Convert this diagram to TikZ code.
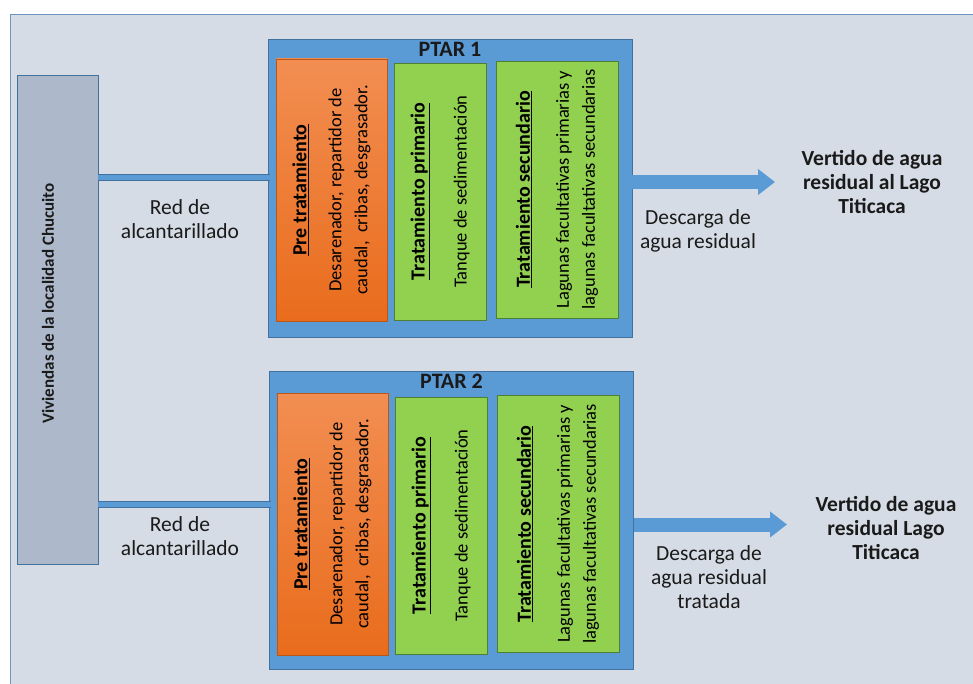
\documentclass[tikz,border=0pt]{standalone}
\usepackage{fontspec}
\setmainfont{Carlito}
\usepackage{tikz}
\usepackage{xcolor}
\usetikzlibrary{arrows.meta,positioning}

\definecolor{fondo}{HTML}{D6DCE5}
\definecolor{marco}{HTML}{6F94C2}
\definecolor{gris}{HTML}{ADB9CA}
\definecolor{azul}{HTML}{5B9BD5}
\definecolor{azulosc}{HTML}{41719C}
\definecolor{verde}{HTML}{92D050}
\definecolor{verdeosc}{HTML}{507E32}
\definecolor{naranja1}{HTML}{F28E52}
\definecolor{naranja2}{HTML}{E96C1C}
\definecolor{texto}{HTML}{1A1A1A}

\newcommand{\caja}[4]{\rotatebox{90}{\parbox{#1}{\centering
  \fontsize{18.5}{26}\selectfont{\fontsize{20}{26}\selectfont\underline{\textbf{#2}}}\\[#3]#4}}}

\tikzset{
  ptar/.style={draw=azulosc, fill=azul, line width=0.8pt, minimum width=364pt, minimum height=298pt},
  pre/.style={draw=naranja2!80!black, top color=naranja1, bottom color=naranja2, line width=0.4pt,
    minimum width=111pt, minimum height=262pt, inner sep=0pt},
  etapa/.style={draw=verdeosc, fill=verde, line width=0.8pt, minimum height=257pt, inner sep=0pt},
  tubo/.style={draw=azul, line width=5pt, preaction={draw=azulosc, line width=7pt}},
  flecha/.style={draw=azul, line width=14pt, -{Triangle[length=17pt,width=25pt]}},
  rotulo/.style={align=center, font=\fontsize{21.5}{24}\selectfont, text=texto},
  destino/.style={align=center, font=\fontsize{21.5}{24}\selectfont\bfseries, text=texto},
  titulo/.style={font=\fontsize{22}{22}\selectfont\bfseries, text=texto, inner sep=2pt}
}

\begin{document}
\begin{tikzpicture}[x=1pt,y=-1pt]
\useasboundingbox (0,0) rectangle (973,684);
\fill[white] (0,0) rectangle (973,684);
\draw[marco, fill=fondo, line width=0.8pt] (10,14) rectangle (990,700);

% viviendas
\node (viv) [draw=azulosc, fill=gris, line width=0.8pt, minimum width=81pt, minimum height=489pt,
  inner sep=0pt, text=texto] at (57.5,319.5)
  {\rotatebox{90}{\raisebox{19pt}{\hspace*{32pt}\fontsize{17}{20}\selectfont\bfseries Viviendas de la localidad Chucuito}}};

% PTAR 1
\node (ptar1) [ptar] at (450,188) {};
\node (tit1) [below=1pt of ptar1.north, titulo] {PTAR 1};
\node (pre1) [pre] at (331.5,190) {\caja{250pt}{Pre tratamiento}{9pt}{Desarenador, repartidor de\\caudal,\ \ cribas, desgrasador.}};
\node (pri1) [etapa, minimum width=92pt] at (440,191.5) {\caja{250pt}{Tratamiento primario}{16pt}{Tanque de sedimentación}};
\node (sec1) [etapa, minimum width=122pt] at (557,189.5) {\caja{250pt}{Tratamiento secundario}{13pt}{Lagunas facultativas primarias y\\lagunas facultativas secundarias}};

% PTAR 2
\node (ptar2) [ptar] at (451.5,520) {};
\node (tit2) [below=1pt of ptar2.north, titulo] {PTAR 2};
\node (pre2) [pre] at (332.5,524) {\caja{250pt}{Pre tratamiento}{9pt}{Desarenador, repartidor de\\caudal,\ \ cribas, desgrasador.}};
\node (pri2) [etapa, minimum width=92pt] at (441,525.5) {\caja{250pt}{Tratamiento primario}{16pt}{Tanque de sedimentación}};
\node (sec2) [etapa, minimum width=122pt] at (558,524) {\caja{250pt}{Tratamiento secundario}{13pt}{Lagunas facultativas primarias y\\lagunas facultativas secundarias}};

% red de alcantarillado
\coordinate (ent1) at (270,177.5);
\coordinate (ent2) at (271,504);
\draw[tubo] (viv.east |- ent1) -- (ent1);
\draw[tubo] (viv.east |- ent2) -- (ent2);
\node (red1) [rotulo] at (180,219) {Red de\\alcantarillado};
\node (red2) [rotulo] at (180,536) {Red de\\alcantarillado};

% descargas
\coordinate (sal1) at (775,182);
\coordinate (sal2) at (787,524.5);
\draw[flecha] (ptar1.east |- sal1) -- (sal1);
\draw[flecha] (ptar2.east |- sal2) -- (sal2);
\node (des1) [rotulo] at (698,231) {Descarga de\\agua residual};
\node (des2) [rotulo] at (709,577) {Descarga de\\agua residual\\tratada};
\node (ver1) [destino] at (872,182) {Vertido de agua\\residual al Lago\\Titicaca};
\node (ver2) [destino] at (886,528) {Vertido de agua\\residual Lago\\Titicaca};
\end{tikzpicture}
\end{document}
